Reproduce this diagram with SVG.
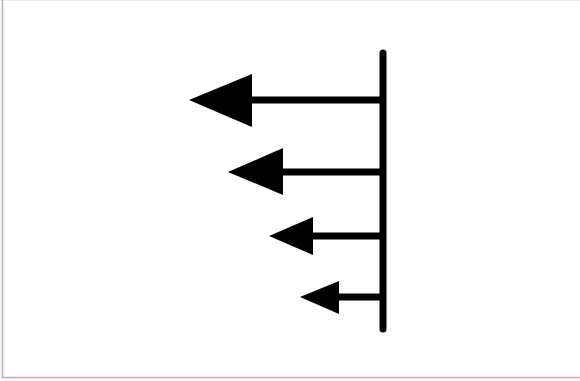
<svg xmlns="http://www.w3.org/2000/svg" width="580" height="381" viewBox="0 0 580 381">
<style>
.shaft{stroke:#000;stroke-width:7;fill:none}
.head{fill:#000}
</style>
<rect x="0" y="0" width="580" height="381" fill="#fff"/>
<line x1="0" y1="0.5" x2="580" y2="0.5" stroke="#eeeeee" stroke-width="1"/>
<line x1="2.5" y1="0" x2="2.5" y2="378" stroke="#c9a3c6" stroke-width="1.5"/>
<line x1="2" y1="377.5" x2="580" y2="377.5" stroke="#c9a3c6" stroke-width="1.5"/>
<g id="connectors">
<line class="shaft" x1="250" y1="100" x2="383" y2="100"/>
<line class="shaft" x1="281" y1="172" x2="383" y2="172"/>
<line class="shaft" x1="311" y1="236" x2="384" y2="236"/>
<line class="shaft" x1="337" y1="297" x2="386" y2="297"/>
</g>
<g id="heads">
<polygon class="head" points="189,100 252,74 252,127"/>
<polygon class="head" points="228,172 283,148 283,195"/>
<polygon class="head" points="269,236 313,217 313,255"/>
<polygon class="head" points="300,297 339,281 339,314"/>
</g>
<g id="bar">
<line x1="383" y1="53" x2="383" y2="329" stroke="#000" stroke-width="7" stroke-linecap="round"/>
</g>
</svg>
